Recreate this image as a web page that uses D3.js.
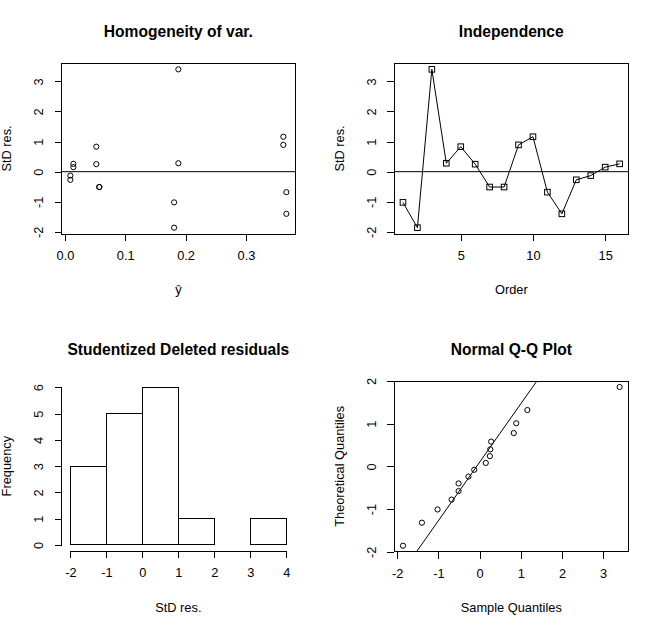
<!DOCTYPE html>
<html>
  <head>
    <meta charset="utf-8">
    <title>Residual diagnostics</title>
    <script src="https://d3js.org/d3.v7.min.js"></script>
    <style>
      body { margin: 0; background: #fff; }
      svg { display: block; font-family: "Liberation Sans", Arial, sans-serif; }
      .box { fill: none; stroke: #000; stroke-width: 1; shape-rendering: crispEdges; }
      .axis path, .axis line { stroke: #000; shape-rendering: crispEdges; }
      .axis text { font-size: 12.8px; fill: #000; font-family: "Liberation Sans", Arial, sans-serif; }
      .title { font-size: 15.6px; font-weight: bold; text-anchor: middle; }
      .lab { font-size: 12.8px; text-anchor: middle; }
    </style>
  </head>
  <body>
    <svg width="661" height="627"></svg>
    <script>
      // Data
      const order = [1, 2, 3, 4, 5, 6, 7, 8, 9, 10, 11, 12, 13, 14, 15, 16];
      const residuals = [-1.02, -1.86, 3.40, 0.28, 0.83, 0.25, -0.51, -0.51,
                         0.89, 1.16, -0.68, -1.40, -0.27, -0.13, 0.15, 0.26];
      const fitted = [0.181, 0.181, 0.188, 0.188, 0.052, 0.052, 0.057, 0.057,
                      0.362, 0.362, 0.367, 0.367, 0.009, 0.009, 0.014, 0.014];
      const histBreaks = [-2, -1, 0, 1, 2, 3, 4];
      const histCounts = [3, 5, 6, 1, 0, 1];
      const theoQuantiles = [-1.86, -1.32, -1.01, -0.78, -0.58, -0.40, -0.24, -0.08,
                             0.08, 0.24, 0.40, 0.58, 0.78, 1.01, 1.32, 1.86];
      const qqLineX = [-1.53, 1.39];
      const qqLineY = [-2, 2];

      const svg = d3.select("svg");
      svg.append("rect").attr("width", 661).attr("height", 627).attr("fill", "#fff");

      // plot regions
      const panels = {
        tl: { x0: 61.7, x1: 295, y0: 63, y1: 234 },
        tr: { x0: 394.3, x1: 628.3, y0: 63, y1: 234 },
        bl: { x0: 61.7, x1: 295, y0: 381, y1: 551.3 },
        br: { x0: 394.3, x1: 628.3, y0: 381, y1: 551.7 }
      };

      // R style 4% padding
      const pad = ext => {
        const d = (ext[1] - ext[0]) * 0.04;
        return [ext[0] - d, ext[1] + d];
      };
      // R prints a plain hyphen for negatives
      const plain = d => String(d);

      function decorate(p, title, xlab, ylab) {
        const cx = (p.x0 + p.x1) / 2;
        svg.append("text").attr("class", "title")
          .attr("x", cx).attr("y", p.y0 - 31).attr("dy", "0.35em").text(title);
        svg.append("text").attr("class", "lab")
          .attr("x", cx).attr("y", p.y1 + 56).attr("dy", "0.35em").text(xlab);
        svg.append("text").attr("class", "lab")
          .attr("transform", `translate(${p.x0 - 55},${(p.y0 + p.y1) / 2}) rotate(-90)`)
          .attr("dy", "0.35em").text(ylab);
      }

      function axes(p, x, y, xticks, yticks, xfmt, boxed) {
        const xa = d3.axisBottom(x).tickValues(xticks).tickSize(7).tickSizeOuter(0)
          .tickPadding(10).tickFormat(xfmt || plain);
        const gx = svg.append("g").attr("class", "axis")
          .attr("transform", `translate(0,${p.y1})`).call(xa);
        gx.select(".domain").attr("d", `M${x(xticks[0])},0H${x(xticks[xticks.length - 1])}`);
        gx.selectAll("text").attr("dy", "0.71em");

        const ya = d3.axisLeft(y).tickValues(yticks).tickSize(7).tickSizeOuter(0).tickFormat(plain);
        const gy = svg.append("g").attr("class", "axis")
          .attr("transform", `translate(${p.x0},0)`).call(ya);
        gy.select(".domain").attr("d", `M0,${y(yticks[0])}V${y(yticks[yticks.length - 1])}`);
        gy.selectAll("text")
          .attr("transform", "rotate(-90)")
          .attr("x", 0).attr("y", -22.7).attr("dy", "0.35em")
          .style("text-anchor", "middle");

        if (boxed) {
          svg.append("rect").attr("class", "box")
            .attr("x", p.x0).attr("y", p.y0)
            .attr("width", p.x1 - p.x0).attr("height", p.y1 - p.y0);
        }
      }

      // ---- Homogeneity of var.
      {
        const p = panels.tl;
        const x = d3.scaleLinear().domain(pad(d3.extent(fitted))).range([p.x0, p.x1]);
        const y = d3.scaleLinear().domain(pad(d3.extent(residuals))).range([p.y1, p.y0]);
        axes(p, x, y, [0, 0.1, 0.2, 0.3], [-2, -1, 0, 1, 2, 3], d3.format(".1f"), true);
        svg.append("line").attr("x1", p.x0).attr("x2", p.x1)
          .attr("y1", y(0)).attr("y2", y(0)).attr("stroke", "#000");
        svg.append("g").selectAll("circle").data(residuals).join("circle")
          .attr("cx", (d, i) => x(fitted[i])).attr("cy", d => y(d))
          .attr("r", 2.6).attr("fill", "none").attr("stroke", "#000");
        decorate(p, "Homogeneity of var.", "\u0177", "StD res.");
      }

      // ---- Independence
      {
        const p = panels.tr;
        const x = d3.scaleLinear().domain(pad(d3.extent(order))).range([p.x0, p.x1]);
        const y = d3.scaleLinear().domain(pad(d3.extent(residuals))).range([p.y1, p.y0]);
        axes(p, x, y, [5, 10, 15], [-2, -1, 0, 1, 2, 3], null, true);
        svg.append("line").attr("x1", p.x0).attr("x2", p.x1)
          .attr("y1", y(0)).attr("y2", y(0)).attr("stroke", "#000");
        const line = d3.line().x((d, i) => x(order[i])).y(d => y(d));
        svg.append("path").datum(residuals).attr("d", line)
          .attr("fill", "none").attr("stroke", "#000");
        const s = 5.6;
        svg.append("g").selectAll("rect").data(residuals).join("rect")
          .attr("x", (d, i) => x(order[i]) - s / 2).attr("y", d => y(d) - s / 2)
          .attr("width", s).attr("height", s)
          .attr("fill", "none").attr("stroke", "#000");
        decorate(p, "Independence", "Order", "StD res.");
      }

      // ---- Histogram
      {
        const p = panels.bl;
        const x = d3.scaleLinear().domain(pad(d3.extent(histBreaks))).range([p.x0, p.x1]);
        const y = d3.scaleLinear().domain(pad([0, d3.max(histCounts)])).range([p.y1, p.y0]);
        svg.append("g").selectAll("rect").data(histCounts).join("rect")
          .attr("x", (d, i) => x(histBreaks[i]))
          .attr("y", d => y(d))
          .attr("width", (d, i) => x(histBreaks[i + 1]) - x(histBreaks[i]))
          .attr("height", d => y(0) - y(d))
          .attr("fill", "#fff").attr("stroke", "#000")
          .attr("shape-rendering", "crispEdges");
        axes(p, x, y, histBreaks, [0, 1, 2, 3, 4, 5, 6], null, false);
        decorate(p, "Studentized Deleted residuals", "StD res.", "Frequency");
      }

      // ---- Normal Q-Q
      {
        const p = panels.br;
        const sorted = residuals.slice().sort(d3.ascending);
        const x = d3.scaleLinear().domain(pad(d3.extent(sorted))).range([p.x0, p.x1]);
        const y = d3.scaleLinear().domain([-2, 2]).range([p.y1, p.y0]);
        axes(p, x, y, [-2, -1, 0, 1, 2, 3], [-2, -1, 0, 1, 2], null, true);
        svg.append("line")
          .attr("x1", x(qqLineX[0])).attr("y1", y(qqLineY[0]))
          .attr("x2", x(qqLineX[1])).attr("y2", y(qqLineY[1]))
          .attr("stroke", "#000");
        svg.append("g").selectAll("circle").data(sorted).join("circle")
          .attr("cx", d => x(d)).attr("cy", (d, i) => y(theoQuantiles[i]))
          .attr("r", 2.6).attr("fill", "none").attr("stroke", "#000");
        decorate(p, "Normal Q-Q Plot", "Sample Quantiles", "Theoretical Quantiles");
      }
    </script>
  </body>
</html>
